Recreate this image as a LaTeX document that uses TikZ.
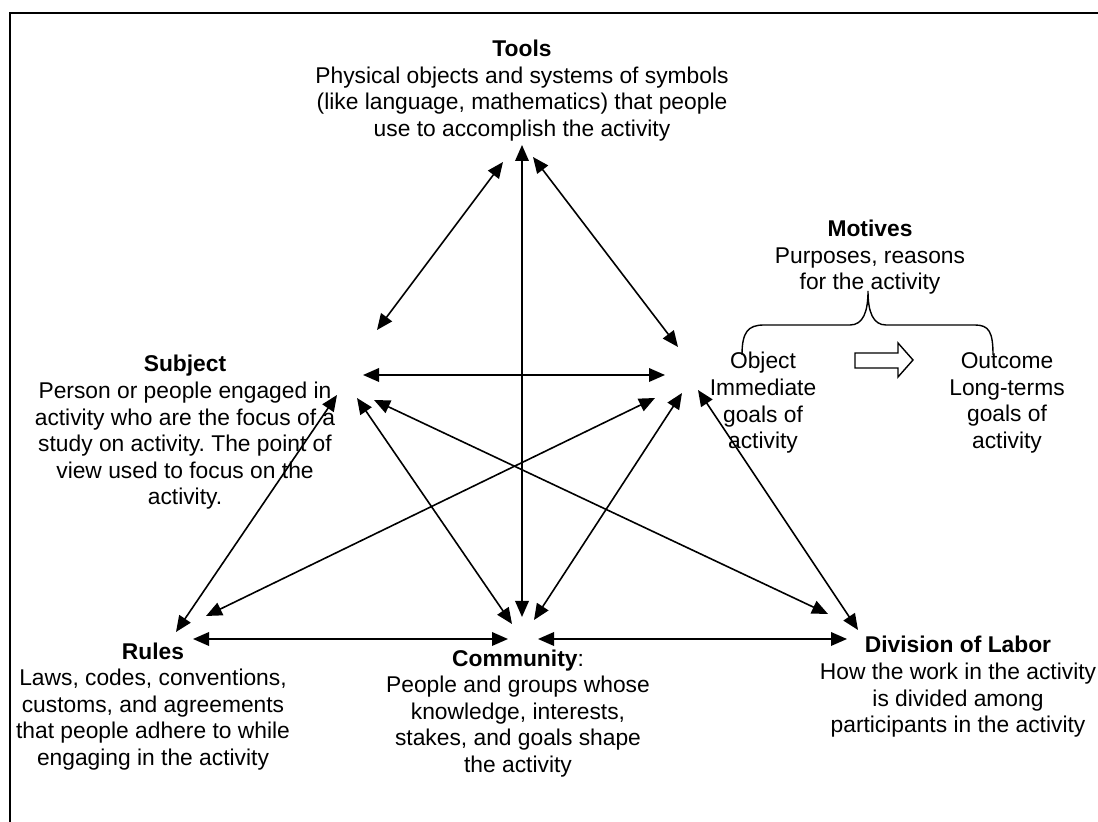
\documentclass[tikz,border=0pt]{standalone}
\usepackage{fontspec}
\setmainfont{Liberation Sans}
\usetikzlibrary{arrows.meta}
\frenchspacing
\begin{document}
\begin{tikzpicture}[x=0.5pt,y=-0.5pt,
  lbl/.style={align=center,inner sep=0pt,font=\fontsize{11.4}{13.3}\selectfont},
  dar/.style={line width=0.8pt,{Triangle[length=8pt,width=6.8pt]}-{Triangle[length=8pt,width=6.8pt]}},
  frame/.style={line width=1.4pt}]
\useasboundingbox (0,0) rectangle (1098,822);
\draw[frame] (10,822) -- (10,13) -- (1098,13);

% text nodes
\node[lbl] (tools) at (522,90.5) {\textbf{Tools}\\Physical objects and systems of symbols\\(like language, mathematics) that people\\use to accomplish the activity};
\node[lbl] (motives) at (870,257.5) {\textbf{Motives}\\Purposes, reasons\\for the activity};
\node[lbl] (subject) at (185,432.5) {\textbf{Subject}\\Person or people engaged in\\activity who are the focus of a\\study on activity. The point of\\view used to focus on the\\activity.};
\node[lbl] (object) at (763,403) {Object\\Immediate\\goals of\\activity};
\node[lbl] (outcome) at (1007,403) {Outcome\\Long-terms\\goals of\\activity};
\node[lbl] (rules) at (153,706.5) {\textbf{Rules}\\Laws, codes, conventions,\\customs, and agreements\\that people adhere to while\\engaging in the activity};
\node[lbl] (community) at (518,713.5) {\textbf{Community}:\\People and groups whose\\knowledge, interests,\\stakes, and goals shape\\the activity};
\node[lbl] (division) at (958,687) {\textbf{Division of Labor}\\How the work in the activity\\is divided among\\participants in the activity};

% brace for motives
\draw[line width=0.7pt] (742,355) .. controls (742,332) and (748,325) .. (764,325) -- (850,325) .. controls (863,325) and (868,312) .. (868,291) .. controls (868,312) and (873,325) .. (886,325) -- (975,325) .. controls (989,325) and (993,332) .. (993,355);

% block arrow
\draw[line width=0.7pt,fill=white] (855,353) -- (898,353) -- (898,343) -- (913,360) -- (898,377) -- (898,368) -- (855,368) -- cycle;

% arrow end points
\coordinate (T0) at (522,145);
\coordinate (T1) at (503,162);
\coordinate (T2) at (533,157);
\coordinate (S1) at (377,330);
\coordinate (S2) at (363,375);
\coordinate (S3) at (337,395);
\coordinate (S4) at (357,398);
\coordinate (S5) at (374,400);
\coordinate (O1) at (678,347);
\coordinate (O2) at (665,375);
\coordinate (O3) at (655,398);
\coordinate (O4) at (682,393);
\coordinate (O5) at (698,390);
\coordinate (R1) at (176,632);
\coordinate (R2) at (206,616);
\coordinate (R3) at (193,639);
\coordinate (C0) at (522,617);
\coordinate (C1) at (512,624);
\coordinate (C2) at (534,620);
\coordinate (C3) at (508,639);
\coordinate (C4) at (538,639);
\coordinate (D1) at (828,614);
\coordinate (D2) at (858,630);
\coordinate (D3) at (847,639);

\draw[dar] (T0) -- (C0);
\draw[dar] (T1) -- (S1);
\draw[dar] (T2) -- (O1);
\draw[dar] (S2) -- (O2);
\draw[dar] (S3) -- (R1);
\draw[dar] (S4) -- (C1);
\draw[dar] (S5) -- (D1);
\draw[dar] (O3) -- (R2);
\draw[dar] (O4) -- (C2);
\draw[dar] (O5) -- (D2);
\draw[dar] (R3) -- (C3);
\draw[dar] (C4) -- (D3);
\end{tikzpicture}
\end{document}
